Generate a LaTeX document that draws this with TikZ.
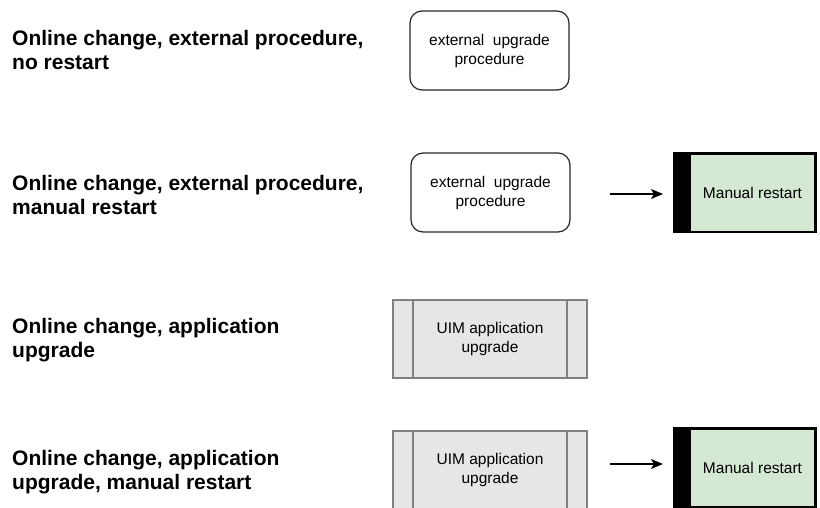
\documentclass[tikz,border=0pt]{standalone}
\usepackage{fontspec}
\setmainfont{Liberation Sans}
\usetikzlibrary{arrows.meta}
\definecolor{mrgreen}{HTML}{D5E8D4}
\definecolor{uimfill}{HTML}{E6E6E6}
\definecolor{uimline}{HTML}{808080}
\tikzset{
  rowlabel/.style={anchor=west, align=left, inner sep=0pt, font=\fontsize{21}{23.5}\selectfont\bfseries},
  extbox/.style={draw=black!85, line width=1.2pt, rounded corners=12pt, fill=white,
    minimum width=159pt, minimum height=79pt, align=center, font=\fontsize{15.5}{19}\selectfont},
  uimbox/.style={draw=uimline, line width=1.2pt, fill=uimfill,
    minimum width=194pt, minimum height=78pt, align=center, font=\fontsize{15.5}{19}\selectfont,
    path picture={
      \draw[uimline, line width=1.2pt] ([xshift=20pt]path picture bounding box.north west) -- ([xshift=20pt]path picture bounding box.south west);
      \draw[uimline, line width=1.2pt] ([xshift=-20pt]path picture bounding box.north east) -- ([xshift=-20pt]path picture bounding box.south east);
    }},
  mrbox/.style={fill=black, minimum width=144pt, minimum height=81pt, align=center,
    inner xsep=0pt, font=\fontsize{15.5}{19}\selectfont,
    path picture={
      \fill[mrgreen] ([xshift=18pt,yshift=-3pt]path picture bounding box.north west) rectangle ([xshift=-3pt,yshift=2pt]path picture bounding box.south east);
    }},
  arr/.style={line width=1.3pt, -{Stealth[length=12pt,width=10pt,inset=3pt]}}
}
\begin{document}
\begin{tikzpicture}[x=1pt,y=-1pt]
\useasboundingbox[fill=white] (0,0) rectangle (820,508);

% row labels
\node[rowlabel] (l1) at (12,50) {Online change, external procedure,\\no restart};
\node[rowlabel] (l2) at (12,195) {Online change, external procedure,\\manual restart};
\node[rowlabel] (l3) at (12,340) {Online change, application\\upgrade};
\node[rowlabel] (l4) at (12,472) {Online change, application\\upgrade, manual restart};

% boxes
\node[extbox] (e1) at (489.5,50.5) {external\ \ upgrade\\procedure};
\node[extbox] (e2) at (490.5,192.5) {external\ \ upgrade\\procedure};
\node[uimbox] (u3) at (490,339) {UIM application\\upgrade};
\node[uimbox] (u4) at (490,470) {UIM application\\upgrade};
\node[mrbox] (m2) at (745,192.5) {\hspace*{15pt}Manual restart};
\node[mrbox] (m4) at (745,467.5) {\hspace*{15pt}Manual restart};

% arrows
\coordinate (a2s) at (610,194);
\coordinate (a2e) at (663,194);
\coordinate (a4s) at (610,464);
\coordinate (a4e) at (663,464);
\draw[arr] (a2s) -- (a2e);
\draw[arr] (a4s) -- (a4e);
\end{tikzpicture}
\end{document}
